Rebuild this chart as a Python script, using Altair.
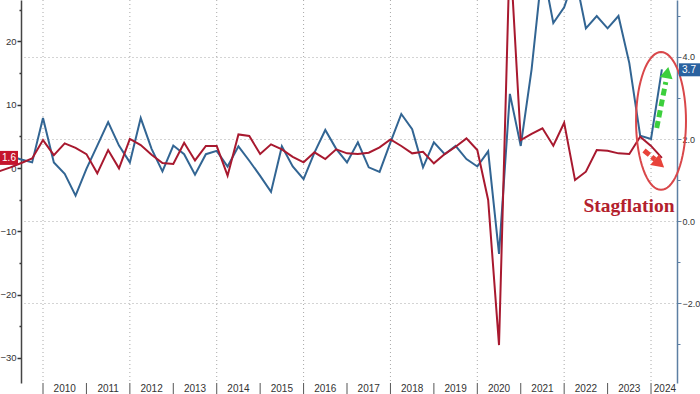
import math
import altair as alt
import pandas as pd

# ---------------- data ----------------
quarters = [f"{y}Q{q}" for y in range(2008, 2025) for q in range(1, 5)]
quarters = quarters[quarters.index("2008Q4"): quarters.index("2024Q1") + 1]

# Real GDP, QoQ annualised (left axis, red)
gdp = [-0.5,
       0.1, 0.8, 1.5, 4.42,
       2.05, 3.9, 3.2, 2.2,
       -0.84, 2.84, -0.05, 4.6,
       3.63, 2.1, 0.8, 0.63,
       4.0, 1.2, 3.5, 3.5,
       -1.2, 5.3, 5.06, 2.21,
       3.74, 2.95, 1.78, 0.9,
       2.48, 1.42, 2.95, 2.32,
       2.21, 2.42, 3.27, 4.53,
       3.48, 2.32, 2.58, 0.74,
       2.2, 3.37, 4.69, 2.84,
       -5.05, -27.96, 34.8, 4.42,
       5.4, 6.27, 3.52, 7.16,
       -1.9, -0.58, 2.84, 2.73,
       2.32, 2.21, 4.94, 3.5,
       1.6]

# Core PCE, QoQ annualised (right axis, blue)
pce = [1.66,
       1.58, 1.50, 1.43, 2.51,
       1.43, 1.15, 0.62, 1.27,
       1.84, 2.41, 1.84, 1.43,
       2.51, 1.76, 1.21, 1.84,
       1.63, 1.13, 1.63, 1.71,
       1.33, 1.82, 1.47, 1.10,
       0.71, 1.82, 1.33, 1.02,
       1.67, 2.22, 1.76, 1.43,
       1.92, 1.31, 1.20, 1.92,
       2.61, 2.24, 1.31, 1.92,
       1.63, 1.83, 1.51, 1.33,
       1.70, -0.80, 3.10, 1.83,
       3.70, 6.20, 4.83, 5.21,
       6.00, 4.70, 5.00, 4.70,
       5.00, 3.85, 2.08, 2.00,
       3.70]

year_labels = list(range(2010, 2025))
left_ticks = [-30, -25, -20, -15, -10, -5, 0, 5, 10, 15, 20, 25]
right_ticks = [-3, -2, -1, 0, 1, 2, 3, 4, 5]

# ---------------- layout ----------------
W, H = 656, 383
XDOM = [2009.4934, 2024.598]
LDOM = [-33.95, 26.54]
RDOM = [-3.95, 5.39]
BLUE = "#326593"
RED = "#a8192f"
FONT = "Liberation Sans Narrow, Arial Narrow, Liberation Sans, sans-serif"

t_vals = [int(q[:4]) + int(q[-1]) / 4 for q in quarters]
df = pd.DataFrame({"q": quarters, "t": t_vals, "gdp": gdp, "pce": pce})


def X(field="t", axis=None):
    return alt.X(f"{field}:Q", scale=alt.Scale(domain=XDOM, nice=False, zero=False), axis=axis)


def YL(field, axis=None):
    return alt.Y(f"{field}:Q", scale=alt.Scale(domain=LDOM, nice=False, zero=False), axis=axis)


def YR(field, axis=None):
    return alt.Y(f"{field}:Q", scale=alt.Scale(domain=RDOM, nice=False, zero=False), axis=axis)


# vertical dotted grid (every two years)
vgrid = alt.Chart(pd.DataFrame({"yr": year_labels[::2]})).mark_rule(
    color="#a8a8a8", strokeDash=[1, 3], strokeWidth=1
).encode(x=X("yr"), y=alt.value(0), y2=alt.value(H))

# year boundary ticks under the axis
yticks = alt.Chart(pd.DataFrame({"yr": year_labels})).mark_rule(
    color="#555555", strokeWidth=1
).encode(x=X("yr"), y=alt.value(H), y2=alt.value(H + 11))

# year labels centred in each (visible) year
ylab_df = pd.DataFrame({
    "yr": year_labels,
    "mid": [y + 0.5 for y in year_labels[:-1]] + [(year_labels[-1] + XDOM[1]) / 2 + 0.02],
    "lab": [str(y) for y in year_labels],
})
ylabels = alt.Chart(ylab_df).mark_text(
    font=FONT, fontSize=10, color="#333333", baseline="middle", align="center"
).encode(x=X("mid"), y=alt.value(H + 6), text="lab:N")

# right axis (with horizontal grid) attached to blue line
right_axis = alt.Axis(
    orient="right", values=right_ticks, format=".1f",
    labelExpr="datum.value % 2 === 0 ? datum.label : ''",
    grid=True, gridColor="#a8a8a8", gridDash=[1, 3],
    gridOpacity={"condition": {"test": "datum.value % 2 === 0", "value": 1}, "value": 0},
    tickSize={"condition": {"test": "datum.value % 2 === 0", "value": 4}, "value": 3},
    domainColor="#5d7fa3", tickColor="#5d7fa3", domainWidth=1.5,
    labelFont=FONT, labelFontSize=9, labelColor="#333333", labelPadding=1,
    title=None,
)
blue_line = alt.Chart(df).mark_line(color=BLUE, strokeWidth=2).encode(
    x=X(), y=YR("pce", right_axis)
)

left_axis = alt.Axis(
    orient="left", values=left_ticks,
    labelExpr="datum.value % 10 === 0 ? datum.label : ''",
    grid=False,
    tickSize={"condition": {"test": "datum.value % 10 === 0", "value": 4}, "value": 2},
    domainColor="#444444", tickColor="#333333", domainWidth=1.5, tickWidth=1.5,
    labelFont=FONT, labelFontSize=9.5, labelColor="#333333", labelPadding=1,
    title=None,
)
x_axis = alt.Axis(
    values=year_labels, labels=False, ticks=False, grid=False,
    domainColor="#444444", domainWidth=1.5, title=None,
)
red_line = alt.Chart(df).mark_line(color=RED, strokeWidth=2).encode(
    x=X("t", x_axis), y=YL("gdp", left_axis)
)

# value tags
last_gdp = pd.DataFrame({"v": [gdp[-1]]})
last_pce = pd.DataFrame({"v": [pce[-1]]})
red_tag = alt.Chart(last_gdp).mark_rect(color="#c5142c", yOffset=-7, y2Offset=7).encode(
    x=alt.value(-21), x2=alt.value(-3), y=YL("v"), y2="v:Q"
)
red_tag_txt = alt.Chart(last_gdp).mark_text(color="white", font=FONT, fontSize=10).encode(
    x=alt.value(-12), y=YL("v"), text=alt.Text("v:Q", format=".1f")
)
blue_tag = alt.Chart(last_pce).mark_rect(color="#2a62a0", yOffset=-6, y2Offset=7).encode(
    x=alt.value(658), x2=alt.value(679), y=YR("v"), y2="v:Q"
)
blue_tag_txt = alt.Chart(last_pce).mark_text(color="white", font=FONT, fontSize=10, dy=1).encode(
    x=alt.value(668), y=YR("v"), text=alt.Text("v:Q", format=".1f")
)

# ---------------- annotations (data coordinates: year, right-axis value) ----------------
# ellipse around the last two quarters: centre and radii in data units
ELL_T, ELL_V, ELL_RT, ELL_RV = 2024.23, 2.44, 0.575, 1.68
ell_df = pd.DataFrame({
    "k": list(range(73)),
    "t": [ELL_T + ELL_RT * math.cos(2 * math.pi * k / 72) for k in range(73)],
    "v": [ELL_V + ELL_RV * math.sin(2 * math.pi * k / 72) for k in range(73)],
})
ellipse = alt.Chart(ell_df).mark_line(color="#d9474a", strokeWidth=2).encode(
    x=X(), y=YR("v"), order="k:Q"
)

green_shaft = alt.Chart(pd.DataFrame({"t": [2024.131], "v": [2.27], "t2": [2024.34], "v2": [3.39]})).mark_rule(
    color="#3ccf3c", strokeWidth=5, strokeDash=[7, 4]
).encode(x=X(), y=YR("v"), x2="t2:Q", y2="v2:Q")
green_head = alt.Chart(pd.DataFrame({"t": [2024.373], "v": [3.62]})).mark_point(
    shape="triangle-up", filled=True, size=170, angle=11, color="#3ccf3c", opacity=1
).encode(x=X(), y=YR("v"))

red_shaft = alt.Chart(pd.DataFrame({"t": [2023.838], "v": [1.72], "t2": [2024.092], "v2": [1.5]})).mark_rule(
    color="#e8433a", strokeWidth=5, strokeDash=[7, 3]
).encode(x=X(), y=YR("v"), x2="t2:Q", y2="v2:Q")
red_head = alt.Chart(pd.DataFrame({"t": [2024.193], "v": [1.40]})).mark_point(
    shape="triangle-up", filled=True, size=200, angle=130, color="#e8433a", opacity=1
).encode(x=X(), y=YR("v"))

stag = alt.Chart(pd.DataFrame({"t": [2023.493], "v": [0.22], "txt": ["Stagflation"]})).mark_text(
    font="Liberation Serif", fontWeight="bold", fontSize=19.5, color="#b3202c",
    align="center", baseline="alphabetic",
).encode(x=X(), y=YR("v"), text="txt:N")

chart = alt.layer(
    vgrid, yticks, ylabels, blue_line, red_line, ellipse,
    red_tag, red_tag_txt, blue_tag, blue_tag_txt,
    green_shaft, green_head, red_shaft, red_head, stag,
).resolve_scale(y="independent").properties(
    width=W, height=H,
    autosize=alt.AutoSizeParams(type="none"),
    padding={"left": 21, "top": 0, "right": 23, "bottom": 11},
    background="white",
).configure_view(stroke=None)

chart.save("out.html", embed_options={"renderer": "svg", "actions": False})
